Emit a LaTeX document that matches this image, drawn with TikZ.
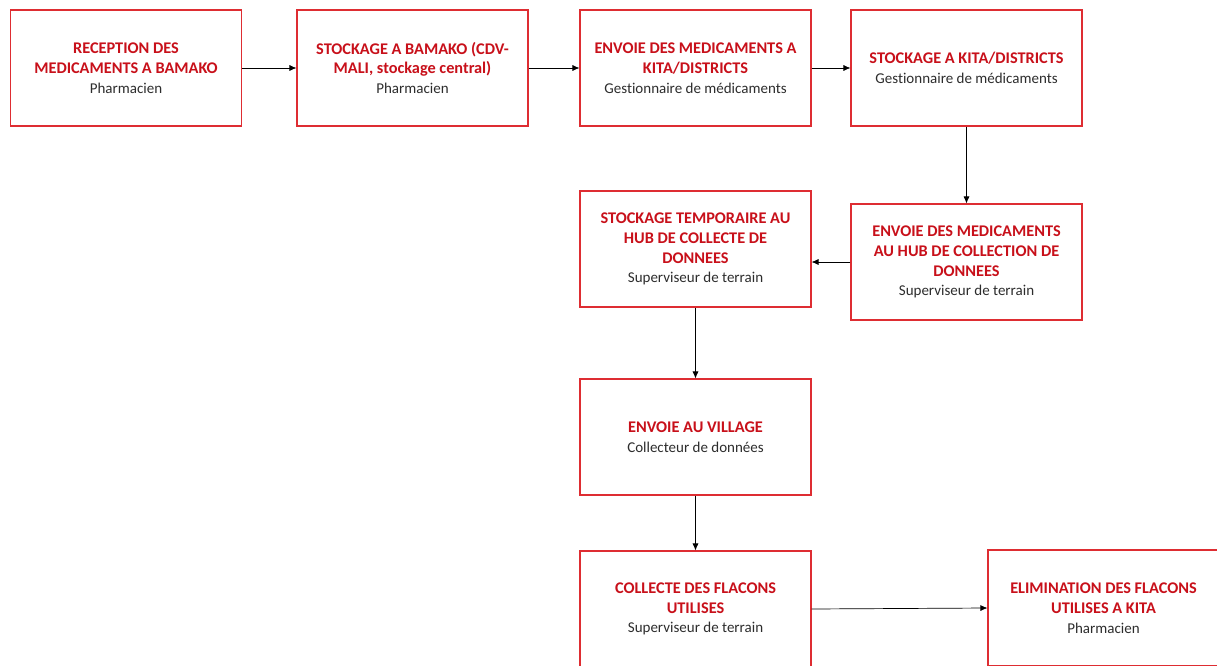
\documentclass[tikz,border=0pt]{standalone}
\usepackage{fontspec}
\setmainfont[Ligatures=NoCommon]{Carlito}
\usetikzlibrary{arrows.meta}
\definecolor{boxred}{RGB}{222,45,50}
\definecolor{titlered}{RGB}{200,16,26}
\definecolor{subgray}{RGB}{45,45,45}
\newcommand{\subt}[1]{{\normalfont\fontsize{15}{19.5}\selectfont\color{subgray}#1}}
\tikzset{
  box/.style={draw=boxred, line width=1.1pt, minimum width=231pt, minimum height=116pt,
    align=center, inner sep=0pt, text=titlered,
    font=\bfseries\fontsize{16.3}{19.8}\selectfont},
  conn/.style={draw=black, line width=0.7pt, -{Latex[length=7pt,width=6pt]}}
}
\begin{document}
\begin{tikzpicture}[x=1pt,y=-1pt]
\useasboundingbox (0,0) rectangle (1217,666);
\clip (0,0) rectangle (1217,666);
\fill[white] (0,0) rectangle (1217,666);
\node[box] (n1) at (126,68) {RECEPTION DES\\MEDICAMENTS A BAMAKO\\\subt{Pharmacien}};
\node[box] (n2) at (412.5,68) {STOCKAGE A BAMAKO (CDV-\\MALI, stockage central)\\\subt{Pharmacien}};
\node[box] (n3) at (695.5,68) {ENVOIE DES MEDICAMENTS A\\KITA/DISTRICTS\\\subt{Gestionnaire de médicaments}};
\node[box] (n4) at (966.5,68) {STOCKAGE A KITA/DISTRICTS\\\subt{Gestionnaire de médicaments}};
\node[box] (n5) at (966.5,262) {ENVOIE DES MEDICAMENTS\\AU HUB DE COLLECTION DE\\DONNEES\\\subt{Superviseur de terrain}};
\node[box] (n6) at (695.5,249) {STOCKAGE TEMPORAIRE AU\\HUB DE COLLECTE DE\\DONNEES\\\subt{Superviseur de terrain}};
\node[box] (n7) at (695.5,437) {ENVOIE AU VILLAGE\\\subt{Collecteur de données}};
\node[box] (n8) at (695.5,609) {COLLECTE DES FLACONS\\UTILISES\\\subt{Superviseur de terrain}};
\node[box] (n9) at (1103.5,608) {ELIMINATION DES FLACONS\\UTILISES A KITA\\\subt{Pharmacien}};
\draw[conn] (n1) -- (n2);
\draw[conn] (n2) -- (n3);
\draw[conn] (n3) -- (n4);
\draw[conn] (n4) -- (n5);
\draw[conn] (n5.west) -- (n5.west -| n6.east);
\draw[conn] (n6) -- (n7);
\draw[conn] (n7) -- (n8);
\draw[conn] (n8.east) -- (n9.west);
\end{tikzpicture}
\end{document}
